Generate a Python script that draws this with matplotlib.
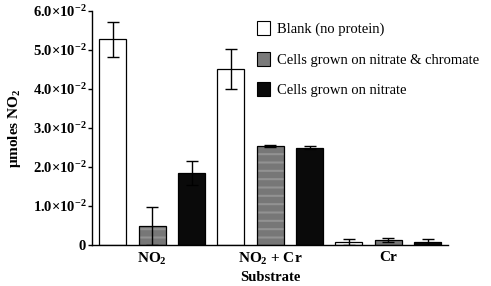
import numpy as np
import matplotlib
matplotlib.use("Agg")
import matplotlib.pyplot as plt
from matplotlib.patches import Patch

plt.rcParams['font.family'] = ['Liberation Serif', 'DejaVu Serif']
plt.rcParams['mathtext.fontset'] = 'custom'
plt.rcParams['mathtext.rm'] = 'Liberation Serif'
plt.rcParams['mathtext.bf'] = 'Liberation Serif:bold'
plt.rcParams['hatch.linewidth'] = 1.5

# data (umoles NO2)
groups = [r'$\mathbf{NO_2}$', r'$\mathbf{NO_2}$ + Cr', 'Cr']
series = ['Blank (no protein)', 'Cells grown on nitrate & chromate', 'Cells grown on nitrate']
blank = [0.0528, 0.0451, 0.0008]
blank_err = [0.0045, 0.0052, 0.0007]
chrom = [0.0049, 0.0254, 0.0013]
chrom_err = [0.0048, 0.0003, 0.0005]
nitr = [0.0185, 0.0249, 0.0008]
nitr_err = [0.0030, 0.0004, 0.0008]
yticks = [0, 0.01, 0.02, 0.03, 0.04, 0.05, 0.06]
ytick_labels = [r'$\mathbf{0}$'] + [r'$\mathbf{%d.0{\times}10^{-2}}$' % i for i in range(1, 7)]

fig = plt.figure(figsize=(4.91, 2.86), dpi=100)
ax = fig.add_axes([0.1874, 0.1434, 0.725, 0.818])

x = np.arange(len(groups)) * 3
w = 0.69
ekw = dict(ecolor='black', elinewidth=1.0, capsize=4, capthick=1.0, fmt='none')

ax.bar(x, blank, w, color='white', edgecolor='black', linewidth=0.9)
ax.errorbar(x, blank, yerr=blank_err, **ekw)

# striped gray bars
ax.bar(x + 1, chrom, w, color='#777777', edgecolor='#929292', linewidth=0, hatch='--')
ax.bar(x + 1, chrom, w, color='none', edgecolor='black', linewidth=0.9)
ax.errorbar(x + 1, chrom, yerr=chrom_err, **ekw)

ax.bar(x + 2, nitr, w, color='#0a0a0a', edgecolor='black', linewidth=0.9)
ax.errorbar(x + 2, nitr, yerr=nitr_err, **ekw)

ax.set_xlim(-0.53, 8.52)
ax.set_ylim(0, 0.06)
ax.set_yticks(yticks)
ax.set_yticklabels(ytick_labels, fontsize=10.5)
ax.set_xticks(x + 1)
ax.set_xticklabels(groups, fontsize=11, fontweight='bold')
ax.tick_params(axis='x', length=0, pad=4)
ax.tick_params(axis='y', length=3, width=1, pad=1)
for s in ['top', 'right']:
    ax.spines[s].set_visible(False)
for s in ['left', 'bottom']:
    ax.spines[s].set_linewidth(1.0)

ax.set_xlabel('Substrate', fontsize=10.5, fontweight='bold', labelpad=3)
ax.set_ylabel(r'$\mathbf{\mu}$moles NO$_\mathbf{2}$', fontsize=11, fontweight='bold', labelpad=7)

handles = [Patch(facecolor='white', edgecolor='black', linewidth=0.8),
           Patch(facecolor='#7a7a7a', edgecolor='black', linewidth=0.8),
           Patch(facecolor='#0a0a0a', edgecolor='black', linewidth=0.8)]
ax.legend(handles, series, loc='upper left', bbox_to_anchor=(0.435, 1.0), frameon=False,
          fontsize=10.5, handlelength=0.9, handleheight=1.1, handletextpad=0.5,
          labelspacing=1.05, borderaxespad=0.3)

fig.savefig('out.png', dpi=100)
